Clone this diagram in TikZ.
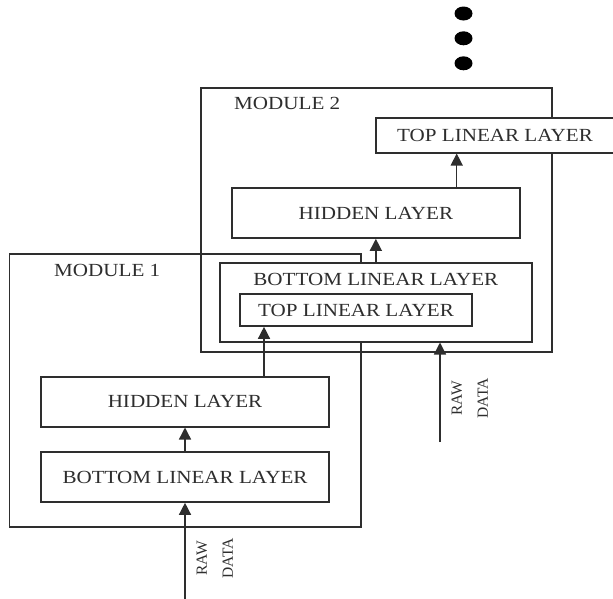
\documentclass[tikz,border=0pt]{standalone}
\usepackage{fontspec}
\setmainfont{Liberation Serif}[FakeStretch=1.14]
\newfontfamily\rawfont{Liberation Serif}
\usetikzlibrary{arrows.meta,shapes.geometric}
\definecolor{ink}{gray}{0.18}
\tikzset{
  module/.style={draw=ink, line width=1.6pt, inner sep=0pt},
  layer/.style={draw=ink, fill=white, line width=1.6pt, inner sep=0pt,
     font=\fontsize{18.5}{22}\selectfont, text=ink},
  lbl/.style={inner sep=0pt, font=\fontsize{18.5}{22}\selectfont, text=ink},
  rawlbl/.style={inner sep=0pt, rotate=90, align=center, text=ink,
     font=\rawfont\fontsize{15.5}{26}\selectfont},
  arr/.style={draw=ink, line width=1.4pt, -{Triangle[length=12pt,width=12pt]}},
  dot/.style={fill=black, draw=none, ellipse, minimum width=18pt, minimum height=14pt, inner sep=0pt}
}
\begin{document}
\begin{tikzpicture}[x=1pt,y=-1pt]
\useasboundingbox (0,0) rectangle (613,598);
% module outlines
\node[module, minimum width=351.4pt, minimum height=272.7pt] (mod1) at (185,390.35) {};
\node[module, minimum width=351pt, minimum height=263.7pt] (mod2) at (376.2,219.85) {};
\node[lbl, anchor=base west] (m1t) at (54,276) {MODULE 1};
\node[lbl, anchor=base west] (m2t) at (234,109) {MODULE 2};
% dots
\node[dot] (d1) at (463.5,13.5) {};
\node[dot] (d2) at (463.5,38.3) {};
\node[dot] (d3) at (463.5,63.3) {};
% module 2 layers
\node[layer, minimum width=238pt, minimum height=35pt] (tll2) at (495,135.2) {TOP LINEAR LAYER};
\node[layer, minimum width=288.3pt, minimum height=50pt] (hid2) at (375.85,213) {HIDDEN LAYER};
\node[layer, minimum width=311.7pt, minimum height=78.7pt] (bll2) at (375.85,302.35) {};
\node[lbl, anchor=base] (bll2t) at (375.85,285.7) {BOTTOM LINEAR LAYER};
\node[layer, minimum width=232pt, minimum height=32pt] (tlli) at (356,310) {TOP LINEAR LAYER};
% module 1 layers
\node[layer, minimum width=288pt, minimum height=50pt] (hid1) at (185,401.7) {HIDDEN LAYER};
\node[layer, minimum width=288pt, minimum height=50pt] (bll1) at (185,477) {BOTTOM LINEAR LAYER};
% raw data
\coordinate (raw1) at (185,600);
\coordinate (raw2) at (440,442);
\node[rawlbl] (r1t) at (214.7,558.5) {RAW\\DATA};
\node[rawlbl] (r2t) at (469.7,398.5) {RAW\\DATA};
% arrows
\coordinate (c1) at (264,0);
\coordinate (c2) at (456.7,0);
\draw[arr] (raw1) -- (bll1.south);
\draw[arr] (bll1.north) -- (hid1.south);
\draw[arr] (c1 |- hid1.north) -- (c1 |- tlli.south);
\draw[arr] (bll2.north) -- (hid2.south);
\draw[arr] (c2 |- hid2.north) -- (c2 |- tll2.south);
\draw[arr] (raw2) -- (raw2 |- bll2.south);
\end{tikzpicture}
\end{document}
